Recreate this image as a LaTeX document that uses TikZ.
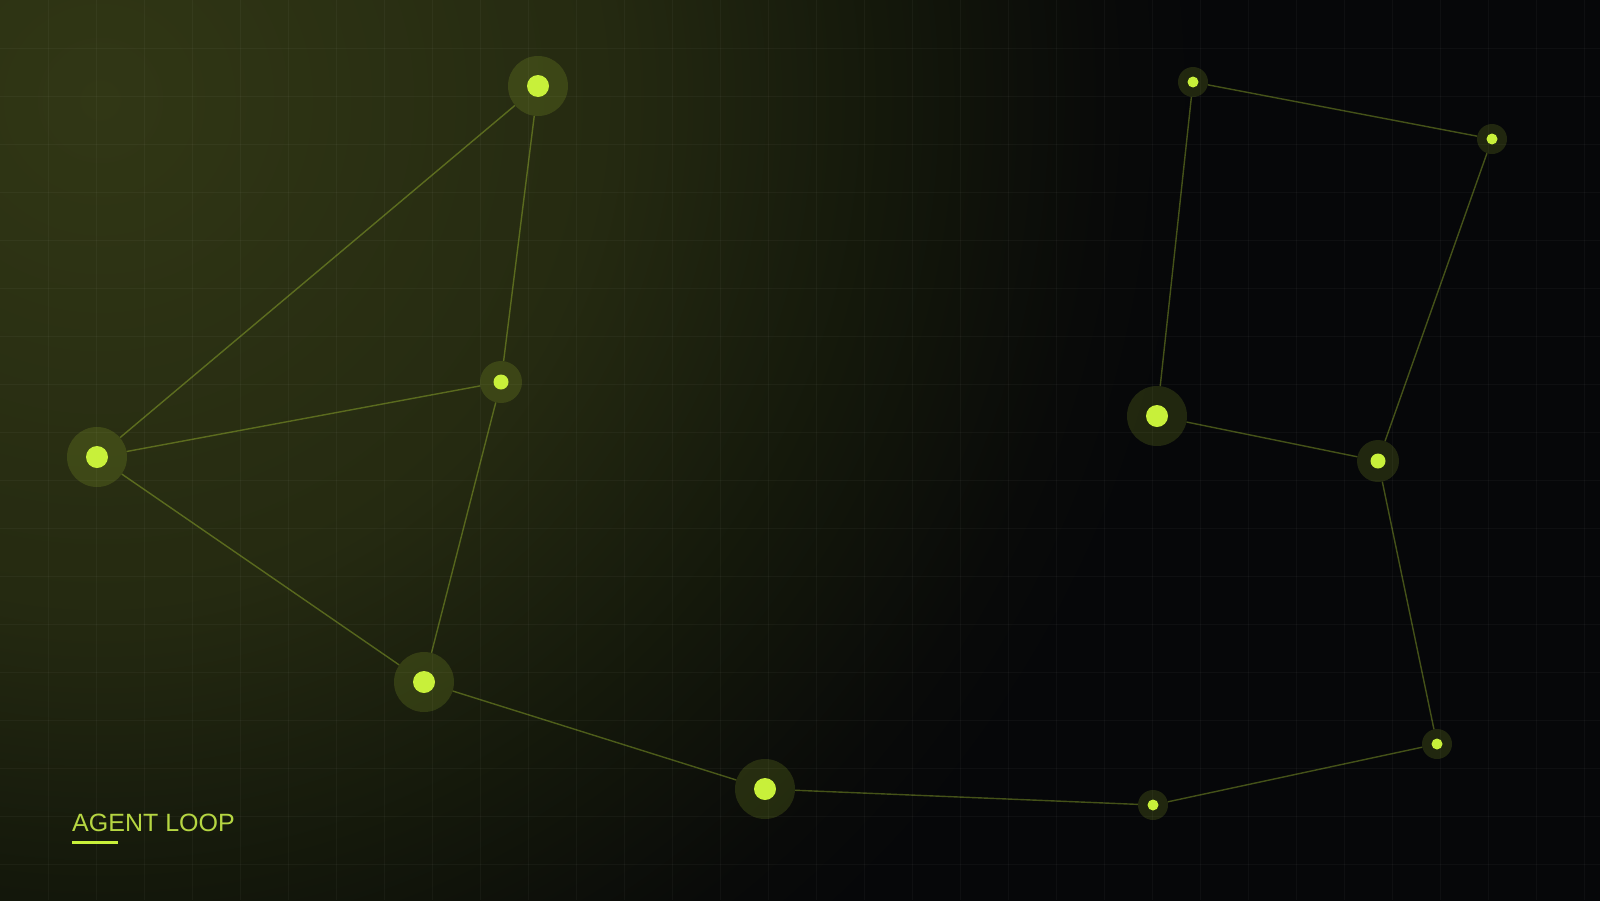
\documentclass[tikz,border=0pt]{standalone}
\usepackage{fontspec}
\setmainfont{Liberation Sans}
\definecolor{lime}{RGB}{200,240,58}
\definecolor{limetext}{RGB}{182,214,66}
\definecolor{glowa}{RGB}{49,55,21}
\definecolor{glowb}{RGB}{37,42,17}
\definecolor{glowc}{RGB}{20,24,11}
\definecolor{glowd}{RGB}{9,10,9}
\definecolor{night}{RGB}{6,7,9}
% stops for a 2200px half side (25bp)
\pgfdeclareradialshading{glow}{\pgfpoint{0bp}{0bp}}{color(0bp)=(glowa); color(5.7bp)=(glowb); color(8.9bp)=(glowc); color(11.4bp)=(glowd); color(12.5bp)=(night); color(50bp)=(night)}
\tikzset{
  halo/.style={circle, fill=lime, fill opacity=0.14, inner sep=0pt, minimum size=#1},
  core/.style={circle, fill=lime, inner sep=0pt, minimum size=#1},
  link/.style={draw=lime, draw opacity=0.32, line width=1.4pt},
  gridline/.style={draw=white, draw opacity=0.035, line width=1pt},
}
\begin{document}
\begin{tikzpicture}[x=1pt, y=-1pt]
        \useasboundingbox (0,0) rectangle (1600,900);
        % background
        \fill[night] (0,0) rectangle (1600,900);
        \begin{scope}
            \clip (0,0) rectangle (1600,900);
            \shade[shading=glow] (-2100,-2100) rectangle (2300,2300);
        \end{scope}
        % grid
        \foreach \x in {48,96,...,1584}
            \draw[gridline] (\x,0) -- (\x,900);
        \foreach \y in {48,96,...,864}
            \draw[gridline] (0,\y) -- (1600,\y);
        % halos
        \node[halo=60pt] (a) at ( 538, 86) {};
        \node[halo=42pt] (b) at ( 501,382) {};
        \node[halo=60pt] (c) at (  97,457) {};
        \node[halo=60pt] (d) at ( 424,682) {};
        \node[halo=60pt] (e) at ( 765,789) {};
        \node[halo=30pt] (f) at (1153,805) {};
        \node[halo=30pt] (g) at (1437,744) {};
        \node[halo=42pt] (h) at (1378,461) {};
        \node[halo=30pt] (i) at (1492,139) {};
        \node[halo=30pt] (j) at (1193, 82) {};
        \node[halo=60pt] (k) at (1157,416) {};
        % links
        \draw[link] (c) -- (a);
        \draw[link] (a) -- (b);
        \draw[link] (c) -- (b);
        \draw[link] (b) -- (d);
        \draw[link] (c) -- (d);
        \draw[link] (d) -- (e);
        \draw[link] (e) -- (f);
        \draw[link] (f) -- (g);
        \draw[link] (g) -- (h);
        \draw[link] (h) -- (i);
        \draw[link] (i) -- (j);
        \draw[link] (j) -- (k);
        \draw[link] (k) -- (h);
        % cores
        \foreach \n in {a,c,d,e,k}
            \node[core=22pt] at (\n) {};
        \foreach \n in {b,h}
            \node[core=15pt] at (\n) {};
        \foreach \n in {f,g,i,j}
            \node[core=11pt] at (\n) {};
        % title
        \node[anchor=base west, inner sep=0pt, text=limetext, font=\fontsize{25}{30}\selectfont] (title) at (72,831) {AGENT LOOP};
        \fill[lime] (72,841) rectangle (118,844);
    \end{tikzpicture}
\end{document}
